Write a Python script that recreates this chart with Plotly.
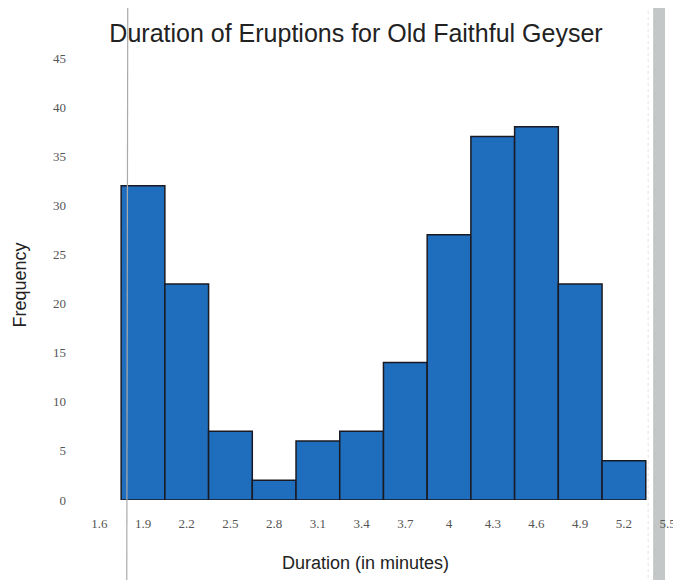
import plotly.graph_objects as go

# Data
bin_centers = [1.9, 2.2, 2.5, 2.8, 3.1, 3.4, 3.7, 4.0, 4.3, 4.6, 4.9, 5.2]
frequency = [32, 22, 7, 2, 6, 7, 14, 27, 37, 38, 22, 4]
x_tick_vals = [1.6, 1.9, 2.2, 2.5, 2.8, 3.1, 3.4, 3.7, 4.0, 4.3, 4.6, 4.9, 5.2, 5.5]
x_tick_text = ["1.6", "1.9", "2.2", "2.5", "2.8", "3.1", "3.4", "3.7", "4", "4.3", "4.6", "4.9", "5.2", "5.5"]
y_tick_vals = [0, 5, 10, 15, 20, 25, 30, 35, 40, 45]

OFF = 8  # page body margin
W, H = 681 - OFF, 580 - OFF
L, R, T, B = 92 - OFF, 5, 58 - OFF, 80
PW = W - L - R
PH = H - T - B

def px_x(p):  # p = target window pixel
    return (p - OFF - L) / PW

def px_y(p):
    return (H - B - (p - OFF)) / PH

fig = go.Figure()
fig.add_trace(go.Bar(
    x=bin_centers, y=frequency, width=0.3,
    marker=dict(color="#1f6dbd", line=dict(color="#1a1a22", width=1.5)),
    showlegend=False,
))

fig.update_layout(
    width=W, height=H,
    margin=dict(l=L, r=R, t=T, b=B),
    paper_bgcolor="white", plot_bgcolor="white",
    title=dict(text="Duration of Eruptions for Old Faithful Geyser",
               x=(356 - OFF) / W, y=1 - (33 - OFF) / H, xanchor="center", yanchor="middle",
               font=dict(family="Liberation Sans, Arial", size=25, color="#222")),
    xaxis=dict(range=[1.55, 5.53], tickvals=x_tick_vals, ticktext=x_tick_text,
               showgrid=False, zeroline=False, showline=False, ticks="",
               ticklabelstandoff=14,
               tickfont=dict(family="Liberation Serif, Times New Roman", size=13, color="#555")),
    yaxis=dict(range=[0, 45], tickvals=y_tick_vals, showgrid=False, zeroline=False,
               showline=False, ticks="", ticklabelstandoff=25,
               tickfont=dict(family="Liberation Serif, Times New Roman", size=13, color="#555")),
    annotations=[
        dict(text="Duration (in minutes)", xref="paper", yref="paper",
             x=px_x(367), y=px_y(563), xanchor="center", yanchor="middle",
             showarrow=False, font=dict(family="Liberation Sans, Arial", size=18, color="#222")),
        dict(text="Frequency", xref="paper", yref="paper", textangle=-90,
             x=px_x(19), y=px_y(285), xanchor="center", yanchor="middle",
             showarrow=False, font=dict(family="Liberation Sans, Arial", size=18, color="#222")),
    ],
    shapes=[
        dict(type="line", xref="paper", yref="paper", x0=px_x(127), x1=px_x(128),
             y0=px_y(590), y1=px_y(0), line=dict(color="#aaaaaa", width=1.2), layer="above"),
        dict(type="rect", xref="paper", yref="paper", x0=px_x(657), x1=px_x(669),
             y0=px_y(590), y1=px_y(0), fillcolor="#c3c7c7", line=dict(width=0), layer="below"),
        dict(type="line", xref="paper", yref="paper", x0=px_x(652), x1=px_x(652),
             y0=px_y(590), y1=px_y(0), line=dict(color="#e2e4e4", width=1, dash="dot"), layer="below"),
    ],
)

fig.write_html("out.html")
